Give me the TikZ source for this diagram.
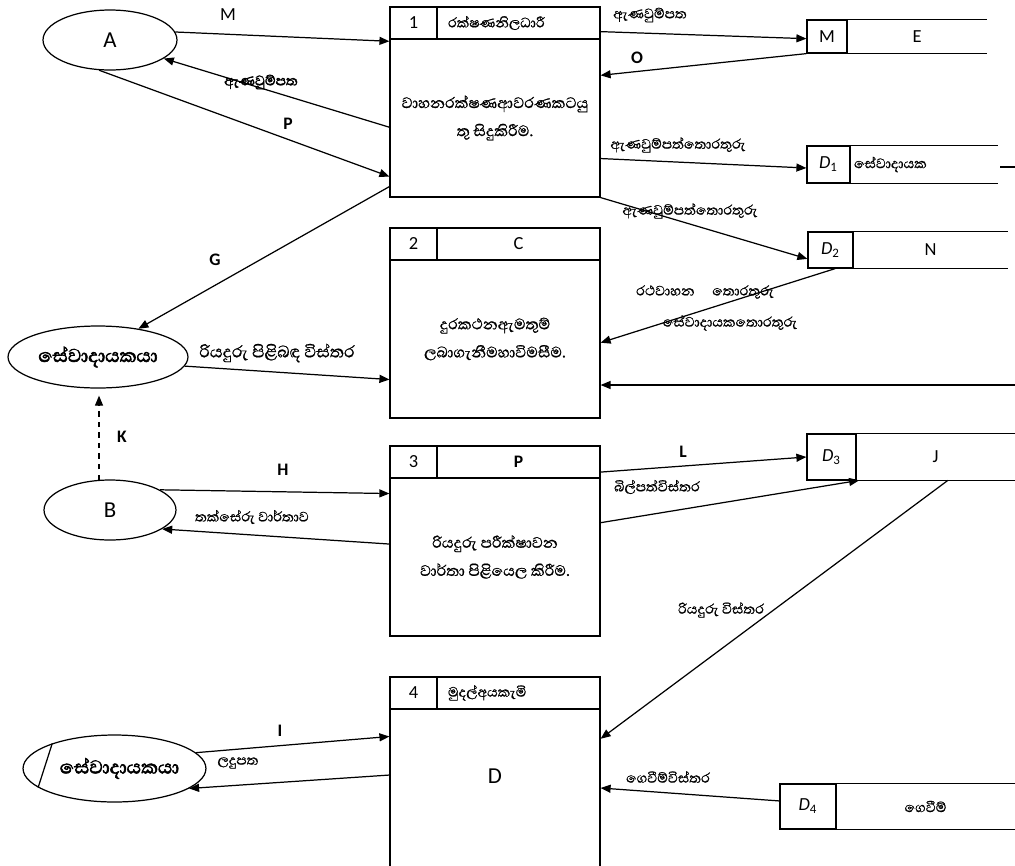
\documentclass[tikz,border=0pt]{standalone}
\usepackage{fontspec}
\setmainfont{Carlito}
\newfontfamily\sinhfont[Script=Sinhala,FakeBold=0.8]{Abhaya Libre}
\newfontfamily\sinhbf[Script=Sinhala,FakeBold=2.5]{Abhaya Libre}
\usetikzlibrary{shapes.geometric,arrows.meta}
\tikzset{
  proc/.style={draw, rectangle, inner sep=0pt, line width=0.7pt},
  ent/.style={draw, ellipse, inner sep=0pt, line width=0.7pt},
  openst/.style={rectangle, inner sep=0pt, minimum height=#1},
  arr/.style={-{Triangle[length=2mm,width=1.6mm]}, line width=0.7pt},
  lbl/.style={inner sep=0pt, font=\bfseries},
  sl/.style={inner sep=0pt, font=\sinhfont},
}
\begin{document}
\begin{tikzpicture}[x=0.02cm,y=-0.02cm,font=\fontsize{10.5}{12}\selectfont]
\useasboundingbox (0,0) rectangle (1015,866);

\node[ent, minimum width=2.68cm, minimum height=1.2cm, font=\fontsize{13}{15}\selectfont] (eA) at (110,40) {A};
\node[ent, minimum width=3.6cm, minimum height=1.24cm, font=\sinhbf\fontsize{13.5}{15}\selectfont] (eS) at (98,357) {සේවාදායකයා};
\node[ent, minimum width=2.64cm, minimum height=1.2cm, font=\fontsize{13}{15}\selectfont] (eB) at (110,510) {B};
\node[ent, minimum width=3.58cm, minimum height=1.34cm, font=\sinhbf\fontsize{13.5}{15}\selectfont] (eS2) at (114.5,768.5) {\hspace{0.2cm}සේවාදායකයා};
\draw[line width=0.7pt] (eS2.158) -- (eS2.194);

\node[proc, minimum width=0.94cm, minimum height=0.64cm] (n1) at (413.5,23) {1};
\node[proc, minimum width=3.26cm, minimum height=0.64cm, inner xsep=0.22cm, text width=2.82cm, align=left, font=\sinhfont] (h1) at (518.5,23) {රක්ෂණනිලධාරී};
\node[proc, minimum width=4.2cm, minimum height=3.16cm, font=\sinhfont\fontsize{11}{13}\selectfont, align=center] (p1) at (495,118) {වාහනරක්ෂණආවරණකටයු\\[3pt]තු සිදුකිරීම.};

\node[proc, minimum width=0.94cm, minimum height=0.64cm] (n2) at (413.5,244) {2};
\node[proc, minimum width=3.26cm, minimum height=0.64cm] (h2) at (518.5,244) {C};
\node[proc, minimum width=4.2cm, minimum height=3.16cm, font=\sinhfont\fontsize{11}{13}\selectfont, align=center] (p2) at (495,339) {දුරකථනඇමතුම්\\[3pt]ලබාගැනීමහාවිමසීම.};

\node[proc, minimum width=0.94cm, minimum height=0.64cm] (n3) at (413.5,462) {3};
\node[proc, minimum width=3.26cm, minimum height=0.64cm, font=\bfseries] (h3) at (518.5,462) {P};
\node[proc, minimum width=4.2cm, minimum height=3.16cm, font=\sinhfont\fontsize{11}{13}\selectfont, align=center] (p3) at (495,557) {රියදුරු පරීක්ෂාවන\\[3pt]වාර්තා පිළියෙල කිරීම.};

\node[proc, minimum width=0.94cm, minimum height=0.64cm] (n4) at (413.5,693) {4};
\node[proc, minimum width=3.26cm, minimum height=0.64cm, inner xsep=0.22cm, text width=2.82cm, align=left, font=\sinhfont] (h4) at (518.5,693) {මුදල්අයකැමි};
\node[proc, minimum width=4.2cm, minimum height=3.16cm, label={[font=\fontsize{13}{15}\selectfont, yshift=0.24cm]center:D}] (p4) at (495,788) {};

\node[proc, minimum width=0.8cm, minimum height=0.66cm] (sM) at (827,36.5) {M};
\node[openst=0.66cm, minimum width=2.8cm] (sE) at (917,36.5) {E};
\node[proc, minimum width=0.86cm, minimum height=0.74cm] (sD1) at (828.5,164.5) {\textit{D}\textsubscript{1}};
\node[openst=0.74cm, text width=2.8cm, inner xsep=0.08cm, align=left, font=\sinhfont] (sC) at (924,164.5) {සේවාදායක};
\node[proc, minimum width=0.9cm, minimum height=0.72cm] (sD2) at (830.5,250) {\textit{D}\textsubscript{2}};
\node[openst=0.72cm, minimum width=3.1cm] (sN) at (930.5,250) {N};
\node[proc, minimum width=0.98cm, minimum height=0.92cm] (sD3) at (831.5,457) {\textit{D}\textsubscript{3}};
\node[openst=0.92cm, minimum width=3.18cm] (sJ) at (935.5,457) {J};
\node[proc, minimum width=1.12cm, minimum height=0.9cm] (sD4) at (808,806.5) {\textit{D}\textsubscript{4}};
\node[openst=0.9cm, minimum width=3.58cm, font=\sinhfont] (sG) at (925.5,806.5) {ගෙවීම්};
\foreach \s in {sE,sC,sN,sJ,sG}
  \draw[line width=0.7pt] (\s.north west) -- (\s.north east) (\s.south west) -- (\s.south east);
\draw[line width=0.7pt] (1000,167) -- (1015,167);
\coordinate (rp2) at (1015,385);

\draw[arr] (eA.7) -- (p1.144);
\draw[arr] (p1.185) -- (eA.341);
\draw[arr] (eA.250) -- (p1.209);
\draw[arr] (h1.354) -- (sM.186);
\draw[arr] (sM.south west) -- (p1.22);
\draw[arr] (p1.339) -- (sD1.189);
\draw[arr] (p1.323.5) -- (sD2.201);
\draw[arr] (p1.213) -- (eS.35);
\draw[arr] (eS.354) -- (p2.201);
\draw[arr] (sD2.284) -- (p2.358);
\draw[arr] (rp2) -- (rp2 -| p2.east);
\draw[arr, dashed, shorten >=4pt] (eB.110) -- (eB.110 |- eS.south);
\draw[arr] (eB.22) -- (p3.149);
\draw[arr] (p3.173) -- (eB.340);
\draw[arr] (h3.353) -- (sD3.west);
\draw[arr] (p3.18) -- (sJ.197.4);
\draw[arr] (sJ.298.5) -- (p4.25);
\draw[arr] (eS2.11) -- (p4.154);
\draw[arr] (p4.173) -- (eS2.345);
\draw[arr] (sD4.169) -- (p4.east);

\node[inner sep=0pt] (lM) at (228,15) {M};
\node[sl, font=\sinhbf] (lN1) at (261,82) {ඇණවුම්පත};
\node[lbl] (lP) at (288,124) {P};
\node[sl] (lE1) at (650,15) {ඇණවුම්පත};
\node[lbl] (lO) at (637,58) {O};
\node[sl] (lD1) at (678,145) {ඇණවුම්පත්තොරතුරු};
\node[sl] (lD2) at (690,211) {ඇණවුම්පත්තොරතුරු};
\node[lbl] (lG) at (215,260) {G};
\node[sl, font=\sinhfont\fontsize{12}{14}\selectfont] (lS) at (277,353) {රියදුරු පිළිබඳ විස්තර};
\node[sl] (lV) at (705,292) {රථවාහන\quad තොරතුරු};
\node[sl] (lC) at (730,323) {සේවාදායකතොරතුරු};
\node[lbl] (lK) at (122,437) {K};
\node[lbl] (lH) at (283,470) {H};
\node[sl] (lT) at (252,517) {තක්සේරු වාර්තාව};
\node[lbl] (lL) at (683,452) {L};
\node[sl] (lB) at (657,487) {බිල්පත්විස්තර};
\node[sl] (lR) at (721,610) {රියදුරු විස්තර};
\node[lbl] (lI) at (280,731) {I};
\node[sl] (lR2) at (238,763) {ලදුපත};
\node[sl] (lPay) at (668,777) {ගෙවීම්විස්තර};
\end{tikzpicture}
\end{document}
